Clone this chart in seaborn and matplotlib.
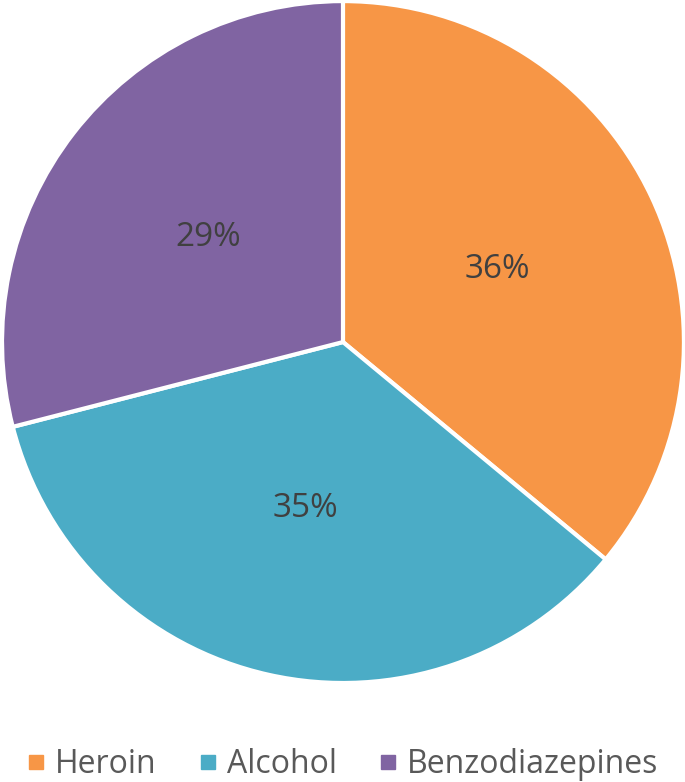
import matplotlib
matplotlib.use("Agg")
import matplotlib.pyplot as plt
from matplotlib.lines import Line2D
import seaborn as sns

labels = ["Heroin", "Alcohol", "Benzodiazepines"]
shares = [36, 35, 29]
colors = sns.color_palette(["#F79646", "#4BACC6", "#8064A2"])

sns.set_style("white")
plt.rcParams["font.family"] = ["Open Sans", "DejaVu Sans"]

fig = plt.figure(figsize=(6.85, 7.82), dpi=100)
ax = fig.add_axes([0.0029, 0.1266, 0.9956, 0.872])

wedges, texts, autotexts = ax.pie(
    shares, colors=colors, startangle=90, counterclock=False,
    autopct="%d%%", pctdistance=0.5, radius=1,
    wedgeprops=dict(edgecolor="white", linewidth=3),
    textprops=dict(color="#404040", fontsize=24),
)
ax.set_xlim(-1, 1)
ax.set_ylim(-1, 1)
ax.set_aspect("equal")
ax.axis("off")

handles = [Line2D([0], [0], marker="s", linestyle="", markersize=10,
                  markerfacecolor=c, markeredgecolor=c) for c in colors]
fig.legend(handles, labels, loc="center", bbox_to_anchor=(0.5, 0.022),
           ncol=3, frameon=False, fontsize=23, handletextpad=0.3,
           columnspacing=1.3, labelcolor="#595959", handlelength=0.6)

fig.savefig("out.png", dpi=100)
